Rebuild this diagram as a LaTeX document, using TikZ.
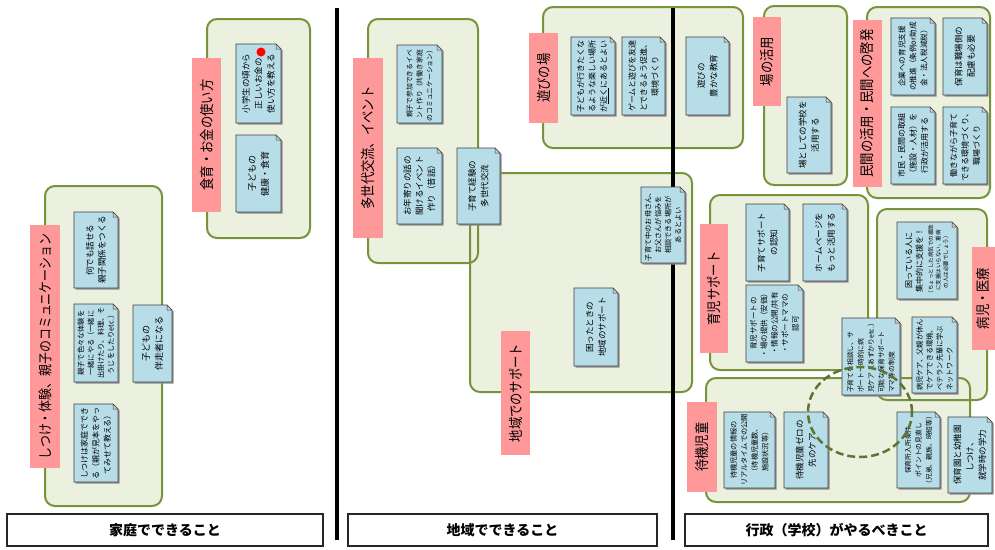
\documentclass[tikz,border=0pt]{standalone}
\usepackage{fontspec}
\newfontfamily\jpn{Noto Sans CJK JP}
\newfontfamily\jpl[FakeStretch=0.85]{Noto Sans CJK JP}
\definecolor{grpF}{RGB}{235,241,222}
\definecolor{grpL}{RGB}{119,147,60}
\definecolor{noteF}{RGB}{183,222,232}
\definecolor{redF}{RGB}{255,153,153}
\definecolor{dashC}{RGB}{94,116,50}
\tikzset{
  grpfill/.style={fill=grpF},
  grpline/.style={draw=grpL, line width=2pt},
  notebody/.style={fill=noteF, draw=black!75, line width=0.6pt},
  noteshadow/.style={fill=black!45},
  foldtri/.style={fill=black!20, draw=black!75, line width=0.5pt},
  notetxt/.style={rotate=90, align=center, inner sep=0pt, text=black},
  fs/.style 2 args={font=\jpn\fontsize{#1}{#2}\selectfont},
  labtxt/.style={rotate=90, inner sep=0pt, text=black, font=\jpl\fontsize{14.5}{16}\selectfont},
  redfill/.style={fill=redF},
  vline/.style={line width=3.5pt, draw=black},
  botbox/.style={draw=black!85, line width=1.5pt, fill=white, inner sep=0pt},
  bottxt/.style={font=\jpn\bfseries\fontsize{14}{16}\selectfont},
  circdash/.style={draw=dashC, line width=2.5pt, dash pattern=on 8pt off 4pt}
}
\newcommand\grpfillbox[4]{\fill[grpfill,rounded corners=10pt] (#1,#2) rectangle (#3,#4);}
\newcommand\grpoutline[4]{\draw[grpline,rounded corners=10pt] (#1,#2) rectangle (#3,#4);}
\newcommand\mynote[7][]{%
  \fill[noteshadow] (#3+1.5,#4+1.5) -- (#5-5+1.5,#4+1.5) -- (#5+1.5,#4+5+1.5) -- (#5+1.5,#6+1.5) -- (#3+1.5,#6+1.5) -- cycle;
  \draw[notebody] (#3,#4) -- (#5-5,#4) -- (#5,#4+5) -- (#5,#6) -- (#3,#6) -- cycle;
  \filldraw[foldtri] (#5-5,#4) -- (#5-5,#4+5) -- (#5,#4+5) -- cycle;
  \node[notetxt,fs={8}{11},#1] (#2) at ({(#3+#5)/2},{(#4+#6)/2}) {#7};
}
\newcommand\redlab[7][]{%
  \fill[redfill] (#3,#4) rectangle (#5,#6);
  \node[labtxt,#1] (#2) at ({(#3+#5)/2},{(#4+#6)/2}) {#7};
}
\begin{document}
\begin{tikzpicture}[x=1pt,y=-1pt]
\fill[white] (0,0) rectangle (995,549);
\useasboundingbox (0,0) rectangle (995,549);
% group fills
\grpfillbox{45}{186}{162}{506}
\grpfillbox{207}{19}{310}{238}
\grpfillbox{368}{19}{478}{263}
\grpfillbox{470}{173}{692}{392}
\grpfillbox{543}{7}{743}{148}
\grpfillbox{764}{6}{847}{185}
\grpfillbox{867}{7}{990}{198}
\grpfillbox{710}{195}{868}{370}
\grpfillbox{877}{209}{987}{400}
\grpfillbox{706}{378}{970}{502}
% group outlines
\grpoutline{45}{186}{162}{506}
\grpoutline{207}{19}{310}{238}
\grpoutline{368}{19}{478}{263}
\grpoutline{470}{173}{692}{392}
\grpoutline{543}{7}{743}{148}
\grpoutline{764}{6}{847}{185}
\grpoutline{867}{7}{990}{198}
\grpoutline{710}{195}{868}{370}
\grpoutline{877}{209}{987}{400}
\grpoutline{706}{378}{970}{502}
% vertical separators
\draw[vline] (337,8) -- (337,540);
\draw[vline] (673,8) -- (673,540);
% red labels
\redlab[font=\jpl\fontsize{14}{16}\selectfont]{labA}{30}{225}{60}{468}{しつけ・体験、親子のコミュニケーション}
\redlab{labB}{192}{58}{221}{212}{食育・お金の使い方}
\redlab{labC}{353}{58}{383}{238}{多世代交流、イベント}
\redlab{labD}{501}{331}{530}{455}{地域でのサポート}
\redlab{labE}{529}{33}{558}{123}{遊びの場}
\redlab{labF}{753}{17}{781}{106}{場の活用}
\redlab{labG}{853}{20}{882}{187}{民間の活用・民間への啓発}
\redlab{labH}{700}{224}{728}{353}{育児サポート}
\redlab{labI}{972}{247}{995}{350}{病児・医療}
\redlab{labK}{687}{402}{717}{492}{待機児童}
% notes
\mynote[fs={8.5}{12}]{a1}{74}{212}{118}{288}{何でも話せる\\親子関係をつくる}
\mynote[fs={7.2}{10}]{a2}{74}{304}{118}{382}{親子で色々な体験を\\一緒にやる（一緒に\\出掛けたり、料理、そ\\うじをしたりetc.）}
\mynote[fs={8}{11.5}]{a3}{74}{404}{118}{482}{しつけは家庭ででき\\る（親が見本をやっ\\てみせて教える）}
\mynote[fs={9}{13}]{a4}{133}{305}{172}{382}{子どもの\\伴走者になる}
\mynote[fs={8.5}{12.5}]{b1}{236}{44}{281}{123}{小学生の頃から\\正しいお金の\\使い方を教える}
\fill[red] (261,52) circle (4.5pt);
\mynote[fs={9}{13}]{b2}{236}{135}{281}{212}{子どもの\\健康・食育}
\mynote[fs={6.8}{10}]{c1}{397}{45}{442}{123}{親子で参加できるイベ\\ント作り（共働き家庭\\のコミュニケーション）}
\mynote[fs={8.5}{12}]{c2}{397}{148}{442}{224}{お年寄りの話の\\聞けるイベント\\作り（昔話）}
\mynote[fs={8.5}{12.5}]{c3}{457}{148}{500}{224}{子育て経験の\\多世代交流}
\mynote[fs={7.2}{10}]{d1}{641}{187}{685}{263}{子育て中のお母さん、\\お父さんが悩みを\\相談できる場所が\\あるとよい}
\mynote[fs={8.5}{12.5}]{d2}{574}{288}{618}{366}{困ったときの\\地域のサポート}
\mynote[fs={8}{11.5}]{e1}{571}{37}{615}{115}{子どもが行きたくな\\るような楽しい場所\\が\underline{近く}にあるとよい}
\mynote[fs={8}{11.5}]{e2}{622}{37}{665}{115}{ゲームと遊びを友達\\とできるよう促進、\\環境づくり}
\mynote[fs={8.5}{12.5}]{e3}{686}{37}{729}{115}{遊びの\\豊かな教育}
\mynote[fs={8.5}{12.5}]{f1}{787}{97}{831}{173}{場としての学校を\\活用する}
\mynote[fs={7.6}{11}]{g1}{891}{18}{935}{95}{企業への育児支援\\の推進（条例or助成\\金・法人税減税）}
\mynote[fs={8.5}{12.5}]{g2}{943}{18}{987}{95}{保育は職場側の\\配慮も必要}
\mynote[fs={8}{11.5}]{g3}{891}{107}{935}{184}{市民・民間の取組\\（施設・人材）を\\行政が活用する}
\mynote[fs={8}{11.5}]{g4}{943}{107}{987}{184}{働きながら子育て\\できる環境づくり、\\職場づくり}
\mynote[fs={8.5}{12.5}]{h1}{746}{204}{789}{281}{子育てサポート\\の認知}
\mynote[fs={8.5}{12.5}]{h2}{803}{204}{847}{281}{ホームページを\\もっと活用する}
\mynote[fs={7.5}{10.5}]{h3}{746}{285}{803}{362}{育児サポートの\\・場の提供（安価）\\・情報の公開/共有\\・サポートママの\\認可}
\mynote[fs={5.5}{7.5}]{i1}{897}{222}{957}{299}{{\fontsize{8}{11}\selectfont 困っている人に}\\[3pt]{\fontsize{8}{11}\selectfont 集中的に支援を！}\\[3pt]（ちょっとした病気での援助\\に支援はいらない、重病\\の人は必要でしょう）}
\mynote[fs={7.2}{10},align=left]{i2}{912}{317}{957}{393}{病児ケア、父親が休ん\\でケアできる環境、\\ベテラン先輩に学ぶ\\ネットワーク}
\mynote[fs={6.8}{10.3},align=left]{j}{842}{318}{900}{395}{子育てを相談し、サ\\ポート一時的に病\\児ケア（あずかりetc.）\\可能な保育サポート\\ママ等の制度}
\mynote[fs={7.2}{10.5}]{k1}{724}{412}{775}{488}{待機児童の情報の\\リアルタイムでの公開\\（待機児童数、\\施設状況等）}
\mynote[fs={8.5}{12.5}]{k2}{784}{412}{828}{488}{待機児童ゼロの\\先のケア}
\mynote[fs={6.8}{10.5}]{k3}{897}{412}{940}{488}{保育所入所条件\\ポイントの見直し\\（兄弟、親族、時短等）}
\mynote[fs={8.5}{12.5}]{k4}{948}{417}{992}{493}{保育園と幼稚園\\しつけ、\\就学時の学力}
% dashed circle
\draw[circdash] (860,412) ellipse [x radius=52pt, y radius=45pt];
% bottom boxes
\node[botbox,bottxt,minimum width=316pt,minimum height=32pt] (bot1) at (165,530) {家庭でできること};
\node[botbox,bottxt,minimum width=309pt,minimum height=32pt] (bot2) at (502.5,530) {地域でできること};
\node[botbox,bottxt,minimum width=303pt,minimum height=32pt] (bot3) at (836.5,530) {行政（学校）がやるべきこと};
\end{tikzpicture}
\end{document}
